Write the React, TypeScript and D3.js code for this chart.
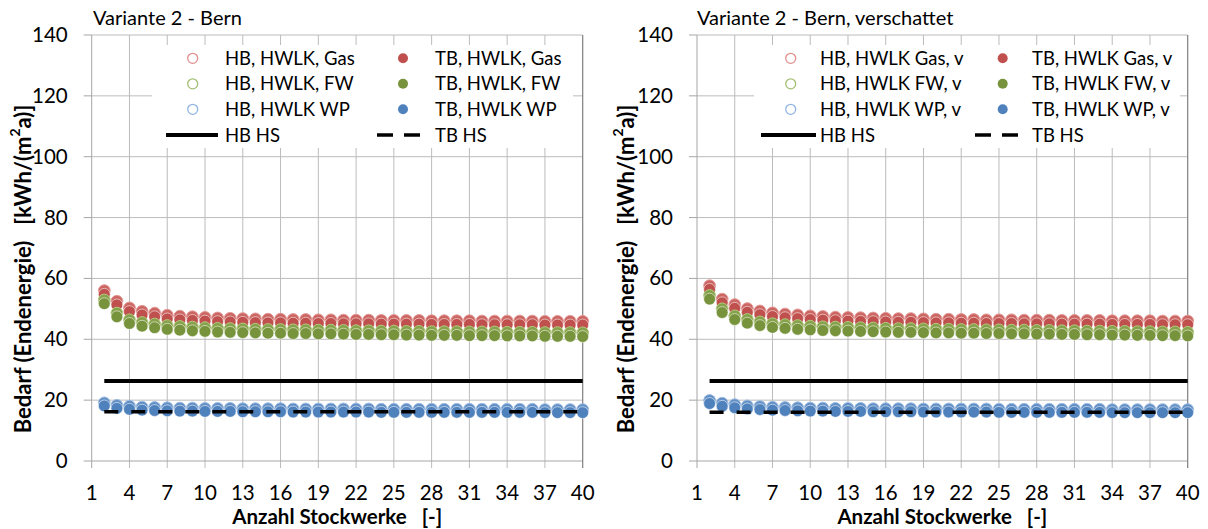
import React from 'react';
import * as d3 from 'd3';

const floors = [2, 3, 4, 5, 6, 7, 8, 9, 10, 11, 12, 13, 14, 15, 16, 17, 18, 19, 20, 21, 22, 23, 24, 25, 26, 27, 28, 29, 30, 31, 32, 33, 34, 35, 36, 37, 38, 39, 40];
const xTicks = [1, 4, 7, 10, 13, 16, 19, 22, 25, 28, 31, 34, 37, 40];
const yTicks = [0, 20, 40, 60, 80, 100, 120, 140];

// Left panel: Variante 2 - Bern
const gasHB_L = [56.0, 52.5, 50.3, 49.2, 48.6, 47.9, 47.6, 47.4, 47.2, 47.0, 46.9, 46.8, 46.7, 46.6, 46.6, 46.5, 46.5, 46.4, 46.4, 46.3, 46.3, 46.3, 46.2, 46.2, 46.2, 46.2, 46.1, 46.1, 46.1, 46.1, 46.0, 46.0, 46.0, 46.0, 46.0, 45.9, 45.9, 45.9, 45.9];
const gasTB_L = [54.8, 51.3, 49.1, 48.0, 47.4, 46.7, 46.4, 46.2, 46.0, 45.8, 45.7, 45.6, 45.5, 45.4, 45.4, 45.3, 45.3, 45.2, 45.2, 45.1, 45.1, 45.1, 45.0, 45.0, 45.0, 45.0, 44.9, 44.9, 44.9, 44.9, 44.8, 44.8, 44.8, 44.8, 44.8, 44.7, 44.7, 44.7, 44.7];
const fwHB_L = [52.9, 48.6, 46.4, 45.5, 45.0, 44.5, 44.2, 44.0, 43.8, 43.6, 43.5, 43.4, 43.3, 43.2, 43.2, 43.1, 43.1, 43.0, 43.0, 42.9, 42.8, 42.8, 42.7, 42.7, 42.6, 42.6, 42.5, 42.5, 42.5, 42.4, 42.4, 42.4, 42.3, 42.3, 42.3, 42.2, 42.2, 42.2, 42.1];
const fwTB_L = [51.7, 47.4, 45.2, 44.3, 43.8, 43.3, 43.0, 42.8, 42.6, 42.4, 42.3, 42.2, 42.1, 42.0, 42.0, 41.9, 41.9, 41.8, 41.8, 41.7, 41.6, 41.6, 41.5, 41.5, 41.4, 41.4, 41.3, 41.3, 41.3, 41.2, 41.2, 41.2, 41.1, 41.1, 41.1, 41.0, 41.0, 41.0, 40.9];
const wpHB_L = [19.1, 18.3, 18.0, 17.7, 17.6, 17.5, 17.4, 17.4, 17.3, 17.3, 17.3, 17.2, 17.2, 17.2, 17.2, 17.1, 17.1, 17.1, 17.1, 17.1, 17.1, 17.1, 17.0, 17.0, 17.0, 17.0, 17.0, 17.0, 17.0, 17.0, 17.0, 17.0, 17.0, 17.0, 17.0, 16.9, 16.9, 16.9, 16.9];
const wpTB_L = [18.1, 17.3, 17.0, 16.7, 16.6, 16.5, 16.4, 16.4, 16.3, 16.3, 16.3, 16.2, 16.2, 16.2, 16.2, 16.1, 16.1, 16.1, 16.1, 16.1, 16.1, 16.1, 16.0, 16.0, 16.0, 16.0, 16.0, 16.0, 16.0, 16.0, 16.0, 16.0, 16.0, 16.0, 16.0, 15.9, 15.9, 15.9, 15.9];
const hbHS_L = 26.3;
const tbHS_L = 16.2;

// Right panel: Variante 2 - Bern, verschattet
const gasHB_R = [57.6, 53.2, 51.4, 50.1, 49.3, 48.7, 48.3, 48.0, 47.7, 47.5, 47.3, 47.2, 47.1, 47.0, 46.9, 46.8, 46.8, 46.7, 46.6, 46.6, 46.5, 46.5, 46.4, 46.4, 46.4, 46.3, 46.3, 46.3, 46.2, 46.2, 46.2, 46.2, 46.1, 46.1, 46.1, 46.1, 46.0, 46.0, 46.0];
const gasTB_R = [56.4, 52.0, 50.2, 48.9, 48.1, 47.5, 47.1, 46.8, 46.5, 46.3, 46.1, 46.0, 45.9, 45.8, 45.7, 45.6, 45.6, 45.5, 45.4, 45.4, 45.3, 45.3, 45.2, 45.2, 45.2, 45.1, 45.1, 45.1, 45.0, 45.0, 45.0, 45.0, 44.9, 44.9, 44.9, 44.9, 44.8, 44.8, 44.8];
const fwHB_R = [54.4, 50.0, 47.7, 46.5, 45.7, 45.1, 44.8, 44.5, 44.3, 44.1, 44.0, 43.9, 43.8, 43.7, 43.6, 43.5, 43.5, 43.4, 43.3, 43.3, 43.2, 43.2, 43.1, 43.1, 43.0, 43.0, 42.9, 42.9, 42.8, 42.8, 42.7, 42.7, 42.6, 42.6, 42.5, 42.5, 42.4, 42.4, 42.3];
const fwTB_R = [53.2, 48.8, 46.5, 45.3, 44.5, 43.9, 43.6, 43.3, 43.1, 42.9, 42.8, 42.7, 42.6, 42.5, 42.4, 42.3, 42.3, 42.2, 42.1, 42.1, 42.0, 42.0, 41.9, 41.9, 41.8, 41.8, 41.7, 41.7, 41.6, 41.6, 41.5, 41.5, 41.4, 41.4, 41.3, 41.3, 41.2, 41.2, 41.1];
const wpHB_R = [19.9, 19.0, 18.5, 18.1, 17.9, 17.7, 17.6, 17.5, 17.4, 17.4, 17.3, 17.3, 17.3, 17.2, 17.2, 17.2, 17.2, 17.1, 17.1, 17.1, 17.1, 17.1, 17.1, 17.0, 17.0, 17.0, 17.0, 17.0, 17.0, 17.0, 17.0, 17.0, 16.9, 16.9, 16.9, 16.9, 16.9, 16.9, 16.9];
const wpTB_R = [18.9, 18.0, 17.5, 17.1, 16.9, 16.7, 16.6, 16.5, 16.4, 16.4, 16.3, 16.3, 16.3, 16.2, 16.2, 16.2, 16.2, 16.1, 16.1, 16.1, 16.1, 16.1, 16.1, 16.0, 16.0, 16.0, 16.0, 16.0, 16.0, 16.0, 16.0, 16.0, 15.9, 15.9, 15.9, 15.9, 15.9, 15.9, 15.9];
const hbHS_R = 26.3;
const tbHS_R = 16.0;

const legendLabels_L = ['HB, HWLK, Gas', 'TB, HWLK, Gas', 'HB, HWLK, FW', 'TB, HWLK, FW', 'HB, HWLK WP', 'TB, HWLK WP', 'HB HS', 'TB HS'];
const legendLabels_R = ['HB, HWLK Gas, v', 'TB, HWLK Gas, v', 'HB, HWLK FW, v', 'TB, HWLK FW, v', 'HB, HWLK WP, v', 'TB, HWLK WP, v', 'HB HS', 'TB HS'];

const COLORS = {
  gas: { tb: '#c0504d', hb: '#cc6663', hbStroke: '#e39a98', leg: '#e08f8d' },
  fw: { tb: '#77933c', hb: '#86a24a', hbStroke: '#b3ca82', leg: '#a5bf73' },
  wp: { tb: '#4f81bd', hb: '#6290c6', hbStroke: '#9fbde2', leg: '#8fb4e3' },
};

const FONT = 'Lato, "Open Sans", "Liberation Sans", sans-serif';

const panels = [
  {
    title: 'Variante 2 - Bern',
    xr: [91.7, 582.7], titleX: 93, yTitleX: 22,
    series: [
      { hb: gasHB_L, tb: gasTB_L, c: COLORS.gas },
      { hb: fwHB_L, tb: fwTB_L, c: COLORS.fw },
      { hb: wpHB_L, tb: wpTB_L, c: COLORS.wp },
    ],
    hbHS: hbHS_L, tbHS: tbHS_L,
    labels: legendLabels_L,
    box: [152, 45, 573, 148],
    leg: { c1: 192.7, t1: 225, c2: 403, t2: 435, s1: 166, s2: 218, d1: 377, d2: 421 },
  },
  {
    title: 'Variante 2 - Bern, verschattet',
    xr: [697, 1187.7], titleX: 697, yTitleX: 625,
    series: [
      { hb: gasHB_R, tb: gasTB_R, c: COLORS.gas },
      { hb: fwHB_R, tb: fwTB_R, c: COLORS.fw },
      { hb: wpHB_R, tb: wpTB_R, c: COLORS.wp },
    ],
    hbHS: hbHS_R, tbHS: tbHS_R,
    labels: legendLabels_R,
    box: [754, 45, 1180, 148],
    leg: { c1: 790.7, t1: 820, c2: 1002.7, t2: 1032, s1: 761, s2: 816, d1: 975, d2: 1018 },
  },
];

const legendRows = [58.3, 83.8, 109.3, 135];

function Panel({ p }: { p: any }) {
  const x = d3.scaleLinear().domain([1, 40]).range(p.xr);
  const y = d3.scaleLinear().domain([0, 140]).range([461, 35]);
  const [xa, xb] = p.xr;
  const R = 5.9;
  const line = d3.line<number>().x((d) => x(d)).y(() => 0);
  const hsX = [floors[0], floors[floors.length - 1]];
  const cols = [COLORS.gas, COLORS.fw, COLORS.wp];
  const LF = 18.5;
  return (
    <g>
      <text x={p.titleX} y={25} fontFamily={FONT} fontSize={20} fill="#000">{p.title}</text>
      {yTicks.filter((t) => t > 0).map((t) => (
        <line key={'h' + t} x1={xa} x2={xb} y1={y(t)} y2={y(t)} stroke="#bcbcbc" strokeWidth={1} />
      ))}
      {xTicks.filter((t) => t > 1 && t < 40).map((t) => (
        <line key={'v' + t} x1={x(t)} x2={x(t)} y1={y(140)} y2={468} stroke="#bcbcbc" strokeWidth={1} />
      ))}
      {yTicks.map((t) => (
        <line key={'yt' + t} x1={xa - 8} x2={xa} y1={y(t)} y2={y(t)} stroke="#a6a6a6" strokeWidth={1} />
      ))}
      <line x1={xa} x2={xb} y1={y(0)} y2={y(0)} stroke="#a6a6a6" strokeWidth={1} />
      <line x1={xa} x2={xa} y1={y(140)} y2={468} stroke="#a6a6a6" strokeWidth={1} />
      <line x1={xb} x2={xb} y1={y(140)} y2={468} stroke="#7f7f7f" strokeWidth={1.2} />
      <rect x={p.box[0]} y={p.box[1]} width={p.box[2] - p.box[0]} height={p.box[3] - p.box[1]} fill="#fff" />
      {p.series.map((s: any, si: number) => (
        <g key={'s' + si}>
          {s.hb.map((v: number, i: number) => (
            <circle key={'hb' + i} cx={x(floors[i])} cy={y(v)} r={R} fill={s.c.hb} stroke={s.c.hbStroke} strokeWidth={1} />
          ))}
          {s.tb.map((v: number, i: number) => (
            <circle key={'tb' + i} cx={x(floors[i])} cy={y(v)} r={R} fill={s.c.tb} stroke="rgba(255,255,255,0.55)" strokeWidth={1} />
          ))}
        </g>
      ))}
      <path d={line(hsX) || ''} transform={`translate(0,${y(p.hbHS)})`} stroke="#000" strokeWidth={4} fill="none" />
      <path d={line(hsX) || ''} transform={`translate(0,${y(p.tbHS)})`} stroke="#000" strokeWidth={3.5} strokeDasharray="14,13" fill="none" />
      {yTicks.map((t) => (
        <text key={'yl' + t} x={xa - 24} y={y(t) + 7} textAnchor="end" fontFamily={FONT} fontSize={20.5} fill="#000">{t}</text>
      ))}
      {xTicks.map((t) => (
        <text key={'xl' + t} x={x(t)} y={500} textAnchor="middle" fontFamily={FONT} fontSize={20.5} fill="#000">{t}</text>
      ))}
      <text x={(xa + xb) / 2} y={524} textAnchor="middle" fontFamily={FONT} fontSize={20.5} fontWeight="bold" fill="#000" style={{ whiteSpace: 'pre' }}>
        {'Anzahl Stockwerke   [-]'}
      </text>
      <text transform={`translate(${p.yTitleX},269) rotate(-90)`} textAnchor="middle" dominantBaseline="central" fontFamily={FONT} fontSize={22} fontWeight="bold" fill="#000" style={{ whiteSpace: 'pre' }}>
        {'Bedarf (Endenergie)   [kWh/(m'}
        <tspan fontSize={14} dy={-8}>2</tspan>
        <tspan dy={8}>{'a)]'}</tspan>
      </text>
      {cols.map((c, i) => (
        <g key={'lg' + i}>
          <circle cx={p.leg.c1} cy={legendRows[i]} r={5} fill="none" stroke={c.leg} strokeWidth={1.3} />
          <text x={p.leg.t1} y={legendRows[i] + 6.5} fontFamily={FONT} fontSize={LF} fill="#000">{p.labels[i * 2]}</text>
          <circle cx={p.leg.c2} cy={legendRows[i]} r={5} fill={c.tb} />
          <text x={p.leg.t2} y={legendRows[i] + 6.5} fontFamily={FONT} fontSize={LF} fill="#000">{p.labels[i * 2 + 1]}</text>
        </g>
      ))}
      <line x1={p.leg.s1} x2={p.leg.s2} y1={legendRows[3]} y2={legendRows[3]} stroke="#000" strokeWidth={4} />
      <text x={p.leg.t1} y={legendRows[3] + 6.5} fontFamily={FONT} fontSize={LF} fill="#000">{p.labels[6]}</text>
      <line x1={p.leg.d1} x2={p.leg.d2} y1={legendRows[3]} y2={legendRows[3]} stroke="#000" strokeWidth={3.5} strokeDasharray="16,11" />
      <text x={p.leg.t2} y={legendRows[3] + 6.5} fontFamily={FONT} fontSize={LF} fill="#000">{p.labels[7]}</text>
    </g>
  );
}

export default function App() {
  return (
    <svg width={1208} height={529} style={{ position: 'absolute', left: 0, top: 0, background: '#fff' }}>
      <rect x={0} y={0} width={1208} height={529} fill="#fff" />
      {panels.map((p, i) => (
        <Panel key={i} p={p} />
      ))}
    </svg>
  );
}
